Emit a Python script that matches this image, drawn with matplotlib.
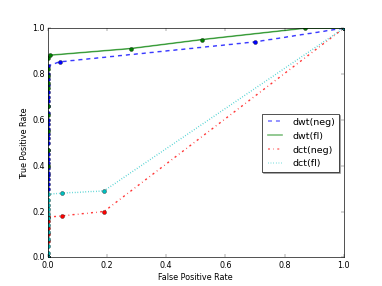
import matplotlib
matplotlib.use('Agg')
import matplotlib.pyplot as plt

plt.style.use('classic')

# ROC points (fpr, tpr)
dwt_neg_fpr = [0.0] * 26 + [0.04, 0.70, 1.0]
dwt_neg_tpr = [0.0, 0.30, 0.32, 0.34, 0.36, 0.37, 0.39, 0.41, 0.43, 0.45, 0.47, 0.50, 0.52,
               0.54, 0.56, 0.58, 0.60, 0.63, 0.66, 0.68, 0.70, 0.72, 0.75, 0.78, 0.80, 0.835,
               0.853, 0.94, 1.0]

dwt_fl_fpr = [0.0] * 11 + [0.008, 0.28, 0.52, 0.87, 1.0]
dwt_fl_tpr = [0.0, 0.40, 0.47, 0.55, 0.62, 0.66, 0.74, 0.76, 0.79, 0.82, 0.87,
              0.882, 0.911, 0.95, 1.0, 1.0]

dct_neg_fpr = [0.0] * 6 + [0.048, 0.19, 1.0]
dct_neg_tpr = [0.0, 0.07, 0.10, 0.13, 0.16, 0.175, 0.181, 0.20, 1.0]

dct_fl_fpr = [0.0] * 12 + [0.048, 0.19, 1.0]
dct_fl_tpr = [0.0, 0.02, 0.05, 0.08, 0.11, 0.14, 0.17, 0.19, 0.21, 0.23, 0.25, 0.275,
              0.28, 0.29, 1.0]

series = [
    ('dwt(neg)', dwt_neg_fpr, dwt_neg_tpr, 'b', '--'),
    ('dwt(fl)', dwt_fl_fpr, dwt_fl_tpr, 'g', '-'),
    ('dct(neg)', dct_neg_fpr, dct_neg_tpr, 'r', '-.'),
    ('dct(fl)', dct_fl_fpr, dct_fl_tpr, 'c', ':'),
]

fig = plt.figure(figsize=(8, 6), dpi=47.75)
ax = fig.add_subplot(111)

for label, fpr, tpr, color, style in series:
    # wide faded line (shown in legend) with a thin solid-colour line and markers on top
    ax.plot(fpr, tpr, linestyle=style, color=color, alpha=0.5, linewidth=2.5, label=label)
    ax.plot(fpr, tpr, linestyle=style, color=color, linewidth=0.8,
            marker='o', markersize=6)

ax.set_xlim(0, 1)
ax.set_ylim(0, 1)
ax.set_xlabel('False Positive Rate')
ax.set_ylabel('True Positive Rate')
ax.legend(loc='center right', shadow=True)

fig.savefig('out.png', dpi=47.75)
